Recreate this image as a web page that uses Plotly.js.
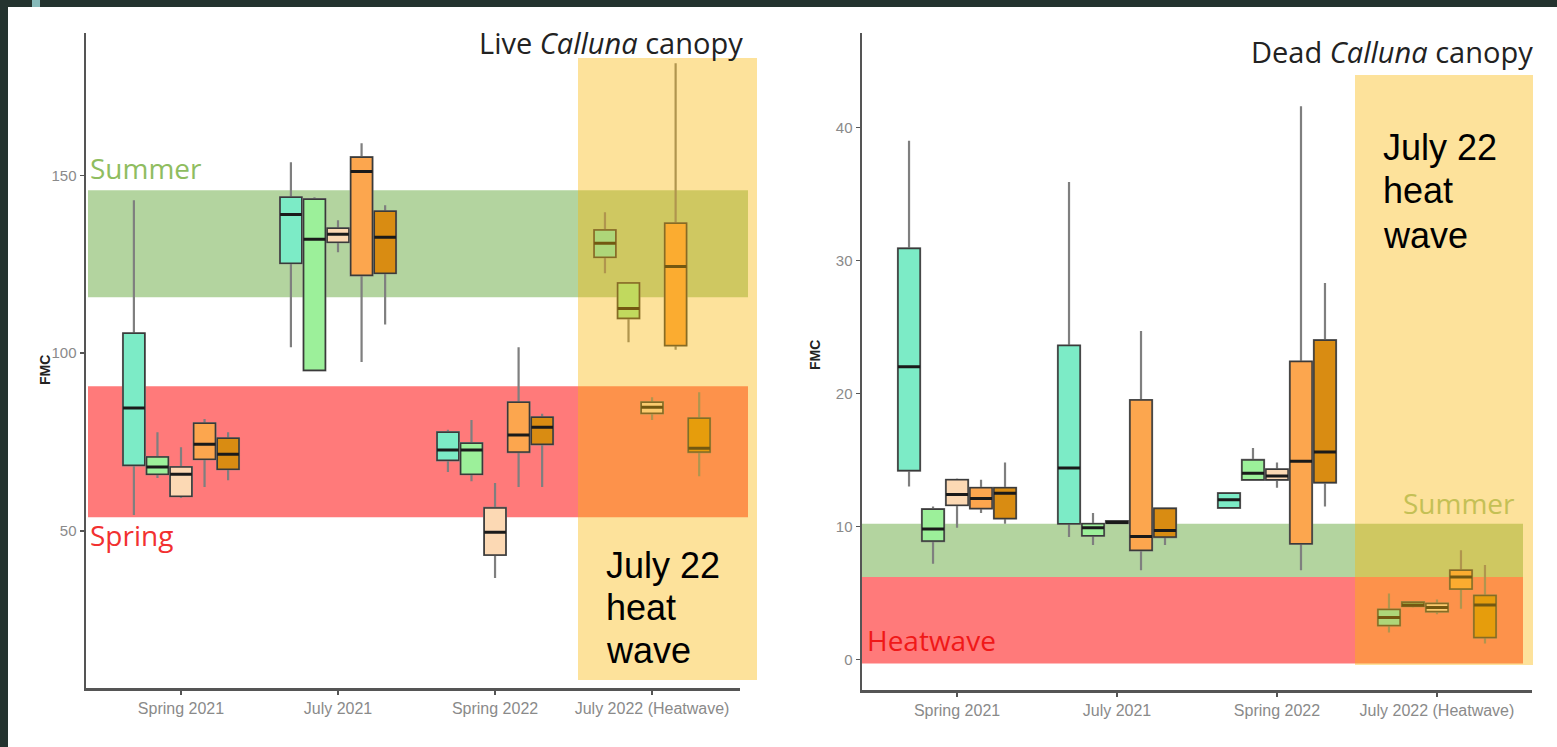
<!DOCTYPE html>
<html>
<head>
<meta charset="utf-8">
<script src="https://cdn.plot.ly/plotly-3.0.1.min.js"></script>
<style>
html,body{margin:0;padding:0;background:#fff;}
#chart{width:1557px;height:747px;}
</style>
</head>
<body>
<div id="chart"></div>
<script>
// ---------- DATA ----------
const periods = ['Spring 2021', 'July 2021', 'Spring 2022', 'July 2022 (Heatwave)'];
const seriesNames = ['Group 1', 'Group 2', 'Group 3', 'Group 4', 'Group 5'];
const seriesColors = ['#7cebc6', '#9cf09a', '#fcd9b4', '#fca64e', '#d98c12'];

// Live Calluna canopy (FMC)
const liveLower  = [[54.5, 101.7, 66.6, 122.5], [64.9, 95.2, 64.0, 103.1], [59.3, 128.4, 36.8, 81.2], [62.4, 97.5, 62.4, 101.0], [64.3, 108.1, 62.4, 65.4]];
const liveQ1     = [[68.5, 125.3, 69.9, 127.0], [66.0, 95.2, 66.0, 109.8], [59.8, 131.2, 43.3, 83.1], [70.2, 121.9, 72.2, 102.2], [67.4, 122.5, 74.4, 72.2]];
const liveMedian = [[84.6, 139.0, 72.8, 130.9], [68.0, 132.0, 72.8, 112.6], [66.0, 133.4, 49.7, 84.8], [74.4, 151.1, 77.0, 124.4], [71.6, 132.6, 79.2, 73.3]];
const liveQ3     = [[105.6, 143.8, 77.8, 134.6], [70.8, 143.3, 74.7, 119.7], [68.0, 135.1, 56.5, 86.2], [80.3, 155.1, 86.2, 136.5], [76.1, 139.9, 82.0, 81.7]];
const liveUpper  = [[143.0, 153.7, 78.5, 139.6], [77.8, 143.8, 81.2, 120.0], [73.6, 137.4, 63.5, 87.6], [81.5, 159.0, 101.7, 181.5], [77.8, 141.6, 83.0, 89.0]];

// Dead Calluna canopy (FMC)
const deadLower  = [[13.0, 9.2, 11.4, 2.03], [7.2, 8.6, 13.5, 3.9], [9.9, 10.2, 12.9, 3.4], [11.0, 6.7, 6.7, 3.8], [10.2, 8.6, 11.5, 1.2]];
const deadQ1     = [[14.2, 10.2, 11.4, 2.55], [8.9, 9.3, 13.5, 4.0], [11.6, 10.25, 13.5, 3.6], [11.35, 8.2, 8.7, 5.3], [10.6, 9.2, 13.3, 1.65]];
const deadMedian = [[22.0, 14.4, 12.0, 3.15], [9.8, 9.9, 14.0, 4.1], [12.4, 10.3, 13.8, 3.9], [12.1, 9.25, 14.9, 6.2], [12.5, 9.7, 15.6, 4.1]];
const deadQ3     = [[30.9, 23.6, 12.5, 3.75], [11.3, 10.2, 15.0, 4.3], [13.5, 10.4, 14.3, 4.2], [12.9, 19.5, 22.4, 6.7], [12.9, 11.35, 24.0, 4.8]];
const deadUpper  = [[39.0, 35.9, 12.5, 4.96], [11.5, 11.0, 15.9, 4.4], [13.6, 10.45, 14.8, 4.5], [13.5, 24.7, 41.6, 8.2], [14.8, 11.4, 28.3, 7.1]];

// reference bands (FMC)
const liveSummerBand = [115.7, 145.8];
const liveSpringBand = [53.9, 90.7];
const deadSummerBand = [6.2, 10.2];
const deadHeatwaveBand = [-0.3, 6.2];

const liveTicks = [50, 100, 150];
const deadTicks = [0, 10, 20, 30, 40];
const heatwaveNote = ['July 22', 'heat', 'wave'];

// ---------- LAYOUT HELPERS ----------
const W = 1557, H = 747;
const fx = p => p / W;
const fy = p => 1 - p / H;

function boxTraces(lower, q1, med, q3, upper, xa, ya) {
  const out = [];
  for (let s = 0; s < seriesNames.length; s++) {
    const base = {
      type: 'box', x: periods, xaxis: xa, yaxis: ya,
      name: seriesNames[s], offsetgroup: 'g' + s, alignmentgroup: 'a' + xa,
      fillcolor: seriesColors[s], whiskerwidth: 0, boxpoints: false,
      hoverinfo: 'skip', showlegend: false
    };
    out.push(Object.assign({}, base, {
      q1: q1[s], median: med[s], q3: q3[s], lowerfence: lower[s], upperfence: upper[s],
      line: {color: '#7f7f7f', width: 2.2}
    }));
    out.push(Object.assign({}, base, {
      q1: q1[s], median: med[s], q3: q3[s], lowerfence: q1[s], upperfence: q3[s],
      line: {color: '#3a3a3a', width: 1.5}
    }));
    out.push(Object.assign({}, base, {
      q1: med[s], median: med[s], q3: med[s], lowerfence: med[s], upperfence: med[s],
      line: {color: '#1a1a1a', width: 3}
    }));
  }
  return out;
}

const data = [].concat(
  boxTraces(liveLower, liveQ1, liveMedian, liveQ3, liveUpper, 'x', 'y'),
  boxTraces(deadLower, deadQ1, deadMedian, deadQ3, deadUpper, 'x2', 'y2')
);

const axisCommon = {
  showgrid: false, zeroline: false, showline: true, linecolor: '#555', linewidth: 2.5,
  ticks: 'outside', ticklen: 4, tickwidth: 1.5, tickcolor: '#555', fixedrange: true
};
const xTickFont = {family: 'Liberation Sans Narrow, Liberation Sans, Arial', size: 16, color: '#8a8a8a'};
const yTickFont = {family: 'Liberation Sans Narrow, Liberation Sans, Arial', size: 15, color: '#8a8a8a'};
const labelFont = 'Open Sans, Lato, sans-serif';

const annotations = [
  {xref: 'paper', yref: 'paper', x: fx(745), y: fy(42), xanchor: 'right', yanchor: 'middle', showarrow: false,
   text: 'Live <i>Calluna</i> canopy', font: {family: labelFont, size: 29, color: '#222'}},
  {xref: 'paper', yref: 'paper', x: fx(1535), y: fy(52), xanchor: 'right', yanchor: 'middle', showarrow: false,
   text: 'Dead <i>Calluna</i> canopy', font: {family: labelFont, size: 29, color: '#222'}},
  {xref: 'paper', yref: 'paper', x: fx(88), y: fy(168), xanchor: 'left', yanchor: 'middle', showarrow: false,
   text: 'Summer', font: {family: labelFont, size: 28, color: '#8fbd60'}},
  {xref: 'paper', yref: 'paper', x: fx(88), y: fy(535), xanchor: 'left', yanchor: 'middle', showarrow: false,
   text: 'Spring', font: {family: labelFont, size: 28, color: '#f23030'}},
  {xref: 'paper', yref: 'paper', x: fx(1517), y: fy(503), xanchor: 'right', yanchor: 'middle', showarrow: false,
   text: 'Summer', font: {family: labelFont, size: 28, color: '#c4c055'}},
  {xref: 'paper', yref: 'paper', x: fx(865), y: fy(640), xanchor: 'left', yanchor: 'middle', showarrow: false,
   text: 'Heatwave', font: {family: labelFont, size: 28, color: '#f01818'}},
  {xref: 'paper', yref: 'paper', x: fx(45), y: fy(370), xanchor: 'center', yanchor: 'middle', showarrow: false, textangle: -90,
   text: '<b>FMC</b>', font: {family: 'Liberation Sans, Arial', size: 14, color: '#222'}},
  {xref: 'paper', yref: 'paper', x: fx(815), y: fy(355), xanchor: 'center', yanchor: 'middle', showarrow: false, textangle: -90,
   text: '<b>FMC</b>', font: {family: 'Liberation Sans, Arial', size: 14, color: '#222'}}
];
const noteLeft = {x: 604, y: [565, 607, 650]};
const noteRight = {x: 1381, y: [147, 190, 235]};
[noteLeft, noteRight].forEach(n => {
  heatwaveNote.forEach((line, i) => {
    annotations.push({xref: 'paper', yref: 'paper', x: fx(n.x), y: fy(n.y[i]), xanchor: 'left', yanchor: 'middle',
      showarrow: false, text: line, font: {family: 'Liberation Sans, Arial', size: 36, color: '#000'}});
  });
});

const layout = {
  width: W, height: H,
  margin: {l: 0, r: 0, t: 0, b: 0},
  paper_bgcolor: '#ffffff', plot_bgcolor: 'rgba(0,0,0,0)',
  boxmode: 'group', boxgap: 0.25, boxgroupgap: 0.08,
  showlegend: false,
  xaxis: Object.assign({}, axisCommon, {
    domain: [fx(86), fx(740)], anchor: 'y', type: 'category', tickfont: xTickFont,
    categoryorder: 'array', categoryarray: periods, range: [-0.605, 3.56]
  }),
  yaxis: Object.assign({}, axisCommon, {
    domain: [fy(688), fy(33)], anchor: 'x', range: [5.9, 190], tickvals: liveTicks, tickfont: yTickFont
  }),
  xaxis2: Object.assign({}, axisCommon, {
    domain: [fx(862), fx(1532)], anchor: 'y2', type: 'category', tickfont: xTickFont,
    categoryorder: 'array', categoryarray: periods, range: [-0.594, 3.594]
  }),
  yaxis2: Object.assign({}, axisCommon, {
    domain: [fy(690), fy(33)], anchor: 'x2', range: [-2.3, 47.1], tickvals: deadTicks, tickfont: yTickFont
  }),
  shapes: [
    {type: 'rect', xref: 'paper', yref: 'paper', x0: 0, x1: fx(8), y0: 0, y1: 1, fillcolor: '#24332f', line: {width: 0}},
    {type: 'rect', xref: 'paper', yref: 'paper', x0: 0, x1: 1, y0: fy(7), y1: 1, fillcolor: '#24332f', line: {width: 0}},
    {type: 'rect', xref: 'paper', yref: 'paper', x0: fx(32), x1: fx(40), y0: fy(7), y1: 1, fillcolor: '#86b9b9', line: {width: 0}},
    {type: 'rect', layer: 'below', xref: 'paper', yref: 'y', x0: fx(88), x1: fx(748), y0: liveSummerBand[0], y1: liveSummerBand[1], fillcolor: '#b3d49f', line: {width: 0}},
    {type: 'rect', layer: 'below', xref: 'paper', yref: 'y', x0: fx(88), x1: fx(748), y0: liveSpringBand[0], y1: liveSpringBand[1], fillcolor: '#ff7a7a', line: {width: 0}},
    {type: 'rect', layer: 'below', xref: 'paper', yref: 'y2', x0: fx(862), x1: fx(1523), y0: deadSummerBand[0], y1: deadSummerBand[1], fillcolor: '#b3d49f', line: {width: 0}},
    {type: 'rect', layer: 'below', xref: 'paper', yref: 'y2', x0: fx(862), x1: fx(1523), y0: deadHeatwaveBand[0], y1: deadHeatwaveBand[1], fillcolor: '#ff7a7a', line: {width: 0}},
    {type: 'rect', layer: 'above', xref: 'paper', yref: 'paper', x0: fx(578), x1: fx(757), y0: fy(680), y1: fy(58), fillcolor: 'rgba(250,182,5,0.4)', line: {width: 0}},
    {type: 'rect', layer: 'above', xref: 'paper', yref: 'paper', x0: fx(1355), x1: fx(1533), y0: fy(665), y1: fy(75), fillcolor: 'rgba(250,182,5,0.4)', line: {width: 0}}
  ],
  annotations: annotations
};

Plotly.newPlot('chart', data, layout, {staticPlot: true, displayModeBar: false});
</script>
</body>
</html>
